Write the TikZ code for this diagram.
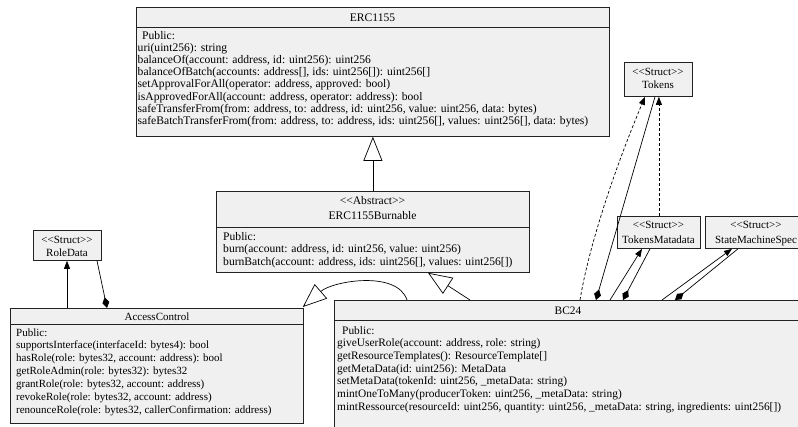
\documentclass[tikz,border=0pt]{standalone}
\usepackage{fontspec}
\setmainfont{Liberation Serif}
\usetikzlibrary{arrows.meta}
\definecolor{boxfill}{HTML}{F0F0F0}
\definecolor{boxline}{HTML}{222222}
% stereotype label, kept as two plain angle brackets on each side
\newcommand\stereotype[1]{<\kern0pt<#1>\kern0pt>}
\begin{document}
\begin{tikzpicture}[x=1pt,y=-1pt,
  box/.style={draw=boxline, fill=boxfill, line width=0.8pt, inner sep=0pt, anchor=north west},
  sepline/.style={draw=boxline, line width=0.8pt},
  lbl/.style={inner sep=0pt, font=\fontsize{11}{13}\selectfont},
  big/.style={font=\fontsize{11.6}{13}\selectfont},
  mid/.style={font=\fontsize{11.4}{13}\selectfont},
  ttl/.style={lbl, anchor=base},
  row/.style={lbl, anchor=base west},
  link/.style={line width=0.7pt},
  dep/.style={link, dash pattern=on 3pt off 2pt},
  head/.style={-{Triangle[length=8pt,width=6pt]}},
  owns/.style={{Diamond[length=11pt,width=7pt]}-},
  extends/.style={-{Triangle[open,length=24pt,width=19pt,fill=white]}}
]
\useasboundingbox (0,0) rectangle (798,426);
\fill[white] (0,0) rectangle (798,426);
\clip (0,0) rectangle (798,426);

% ---------- ERC1155 ----------
\node[box, minimum width=473pt, minimum height=129pt] (erc) at (136,7) {};
\draw[sepline] ([yshift=-20pt]erc.north west) -- ([yshift=-20pt]erc.north east);
\node[ttl, big] (ercT) at (372.5,21) {ERC1155};
\node[row, big] (ercP) at (142,39) {Public:};
\foreach \entry [count=\i from 0] in {
  {uri(uint256): string},
  {balanceOf(account: address, id: uint256): uint256},
  {balanceOfBatch(accounts: address[], ids: uint256[]): uint256[]},
  {setApprovalForAll(operator: address, approved: bool)},
  {isApprovedForAll(account: address, operator: address): bool},
  {safeTransferFrom(from: address, to: address, id: uint256, value: uint256, data: bytes)},
  {safeBatchTransferFrom(from: address, to: address, ids: uint256[], values: uint256[], data: bytes)}}
  \node[row, big] (ercL\i) at (137.5,{51+12.3*\i}) {\entry};

% ---------- ERC1155Burnable ----------
\node[box, minimum width=313pt, minimum height=81pt] (burn) at (216,191) {};
\draw[sepline] ([yshift=-36pt]burn.north west) -- ([yshift=-36pt]burn.north east);
\node[ttl, big] (burnS) at (372.5,204.5) {\stereotype{Abstract}};
\node[ttl, big] (burnT) at (372.5,219.5) {ERC1155Burnable};
\foreach \entry [count=\i from 0] in {
  {Public:},
  {burn(account: address, id: uint256, value: uint256)},
  {burnBatch(account: address, ids: uint256[], values: uint256[])}}
  \node[row, big] (burnL\i) at (223,{240+12.5*\i}) {\entry};

% ---------- RoleData ----------
\node[box, minimum width=68pt, minimum height=30pt] (role) at (33,230) {};
\node[ttl] (roleS) at (67,243) {\stereotype{Struct}};
\node[ttl] (roleT) at (67,256.5) {RoleData};

% ---------- AccessControl ----------
\node[box, minimum width=293pt, minimum height=115pt] (ac) at (10,308) {};
\draw[sepline] ([yshift=-16pt]ac.north west) -- ([yshift=-16pt]ac.north east);
\node[ttl] (acT) at (157,320) {AccessControl};
\foreach \entry [count=\i from 0] in {
  {Public:},
  {supportsInterface(interfaceId: bytes4): bool},
  {hasRole(role: bytes32, account: address): bool},
  {getRoleAdmin(role: bytes32): bytes32},
  {grantRole(role: bytes32, account: address)},
  {revokeRole(role: bytes32, account: address)},
  {renounceRole(role: bytes32, callerConfirmation: address)}}
  \node[row] (acL\i) at (16,{336+12.9*\i}) {\entry};

% ---------- BC24 ----------
\node[box, minimum width=470pt, minimum height=130pt] (bc) at (334,300) {};
\draw[sepline] ([yshift=-20pt]bc.north west) -- ([yshift=-20pt]bc.north east);
\node[ttl, mid] (bcT) at (568,314) {BC24};
\node[row, mid] (bcP) at (342,334) {Public:};
\foreach \entry [count=\i from 1] in {
  {giveUserRole(account: address, role: string)},
  {getResourceTemplates(): ResourceTemplate[]},
  {getMetaData(id: uint256): MetaData},
  {setMetaData(tokenId: uint256, \_metaData: string)},
  {mintOneToMany(producerToken: uint256, \_metaData: string)},
  {mintRessource(resourceId: uint256, quantity: uint256, \_metaData: string, ingredients: uint256[])}}
  \node[row, mid] (bcL\i) at (337,{334+12.67*\i}) {\entry};

% ---------- structs ----------
\node[box, minimum width=68pt, minimum height=34pt] (tok) at (624,62) {};
\node[ttl] (tokS) at (658,75) {\stereotype{Struct}};
\node[ttl] (tokT) at (658,88.5) {Tokens};

\node[box, minimum width=83pt, minimum height=32pt] (tmd) at (617,216) {};
\node[ttl] (tmdS) at (658.5,228) {\stereotype{Struct}};
\node[ttl] (tmdT) at (658.5,243) {TokensMatadata};

\node[box, minimum width=102pt, minimum height=32pt] (sms) at (705,216) {};
\node[ttl] (smsS) at (756,228) {\stereotype{Struct}};
\node[ttl] (smsT) at (756,243) {StateMachineSpec};

% ---------- inheritance ----------
\draw[link, extends] (burn.north) -- (erc.south);
\draw[link, extends] ([xshift=136pt]bc.north west) -- ([xshift=212pt]burn.south west);
\draw[link, extends] ([xshift=73pt]bc.north west)
  .. controls +(-10,-30) and +(30,-26) .. ([xshift=-1pt,yshift=1pt]ac.north east);

% ---------- associations ----------
\draw[link, head] ([xshift=57pt]ac.north west) -- ([xshift=34pt]role.south west);
\draw[link, owns] ([xshift=97pt]ac.north west) -- ([xshift=64pt]role.south west);

\draw[dep, head] ([xshift=246pt]bc.north west)
  .. controls +(10,-60) and +(-27,64) .. ([xshift=21pt]tok.south west);
\draw[link, owns] ([xshift=262pt]bc.north west) -- ([xshift=31pt]tok.south west);
\draw[dep, head] (tmd.north) -- (tmd.north |- tok.south);

\draw[link, head] ([xshift=276pt]bc.north west) -- ([xshift=25pt]tmd.south west);
\draw[link, owns] ([xshift=289pt]bc.north west) -- ([xshift=33pt]tmd.south west);

\draw[link, head] ([xshift=328pt]bc.north west) -- ([xshift=27pt]sms.south west);
\draw[link, owns] ([xshift=341pt]bc.north west) -- ([xshift=33pt]sms.south west);
\end{tikzpicture}
\end{document}
